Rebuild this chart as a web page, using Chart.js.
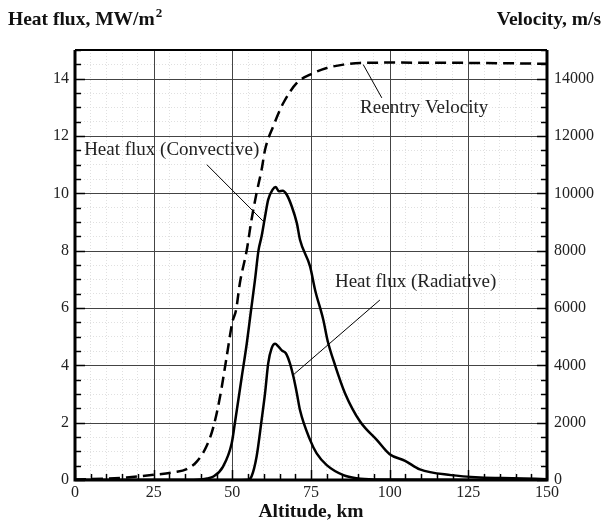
<!DOCTYPE html>
<html>
<head>
<meta charset="utf-8">
<title>Heat flux and velocity vs altitude</title>
<script src="https://cdn.jsdelivr.net/npm/chart.js@4.4.1/dist/chart.umd.min.js"></script>
<style>
    html, body { margin: 0; padding: 0; background: #fff; }
    #wrap { position: relative; width: 603px; height: 523px; }
</style>
</head>
<body>
<div id="wrap"><canvas id="heatChart"></canvas></div>
<script>
// convective heat flux, MW/m2
var altConv = [0, 20, 35, 40, 42, 44, 47, 49.8, 50.8, 53, 54.6, 55.8, 57.2, 58.3, 59.3, 60.4, 61.4, 62.8, 63.8, 64.8, 66, 67.3, 68.9, 70.5, 71.5, 74.7, 76.3, 78.9, 80.3, 82.6, 85.8, 90.6, 95.9, 100, 104.9, 109.6, 119.5, 128.7, 139, 150];
var qConv = [0, 0, 0, 0.02, 0.05, 0.12, 0.46, 1.28, 1.98, 3.6, 4.77, 5.8, 6.98, 8.0, 8.5, 9.19, 9.78, 10.13, 10.22, 10.07, 10.09, 9.95, 9.54, 8.96, 8.38, 7.45, 6.63, 5.59, 4.85, 4.02, 3.03, 2.04, 1.4, 0.9, 0.67, 0.37, 0.17, 0.09, 0.06, 0.03];

// radiative heat flux, MW/m2
var altRad = [0, 50, 55, 56.1, 57.7, 59.3, 60.4, 61.4, 62.5, 63.6, 64.6, 65.7, 67, 68.3, 69.4, 70.5, 71.5, 74.7, 76.8, 80, 85.3, 89.5, 95, 150];
var qRad = [0, 0, 0.01, 0.12, 0.81, 2.09, 3.03, 4.07, 4.6, 4.75, 4.66, 4.52, 4.42, 4.07, 3.61, 3.03, 2.44, 1.4, 0.93, 0.52, 0.17, 0.06, 0.02, 0];

// reentry velocity, m/s
var altVel = [0, 10, 16.4, 25, 31.5, 35.5, 38.7, 41.9, 44, 46.1, 48.2, 50, 51.2, 52.4, 54.6, 56.1, 57.7, 59.3, 60.4, 63, 66.2, 70.5, 74.7, 80, 85.3, 90.6, 100, 125, 150];
var vel = [20, 50, 90, 180, 270, 380, 640, 1200, 1860, 2910, 4300, 5500, 5940, 6870, 8030, 9080, 10010, 10820, 11520, 12340, 13150, 13850, 14140, 14370, 14490, 14550, 14560, 14550, 14520];

// axis label spots
var xLabelVals = [0, 25, 50, 75, 100, 125, 150];
var qLabelVals = [0, 2, 4, 6, 8, 10, 12, 14];
var vLabelVals = [0, 2000, 4000, 6000, 8000, 10000, 12000, 14000];

var serif = "'Liberation Serif', 'DejaVu Serif', serif";
var chartObj = null;

function makePoints(xs, ys) {
    var pts = [];
    for (var i = 0; i < xs.length; i++) {
        pts.push({ x: xs[i], y: ys[i] });
    }
    return pts;
}

// text labels with leader lines, placed in data units
var notes = [
    { text: 'Reentry Velocity', x: 90.6, y: 12.99, lx1: 91.6, ly1: 14.49, lx2: 97.5, ly2: 13.33 },
    { text: 'Heat flux (Convective)', x: 2.9, y: 11.52, lx1: 41.9, ly1: 11.0, lx2: 59.7, ly2: 9.04 },
    { text: 'Heat flux (Radiative)', x: 82.6, y: 6.91, lx1: 96.9, ly1: 6.28, lx2: 69.4, ly2: 3.67 }
];

function isMajor(v, step) {
    return Math.abs(v / step - Math.round(v / step)) < 1e-6;
}

// solid major grid, drawn over the dotted minor one
var majorGridPlugin = {
    id: 'majorGrid',
    beforeDatasetsDraw: function(chart) {
        var c = chart.ctx;
        var a = chart.chartArea;
        var sx = chart.scales.x;
        var sy = chart.scales.y;
        var i, p;
        c.save();
        c.strokeStyle = '#444';
        c.lineWidth = 1;
        for (i = 25; i < 150; i += 25) {
            p = Math.round(sx.getPixelForValue(i)) + 0.5;
            c.beginPath(); c.moveTo(p, a.top); c.lineTo(p, a.bottom); c.stroke();
        }
        for (i = 2; i < 15; i += 2) {
            p = Math.round(sy.getPixelForValue(i)) + 0.5;
            c.beginPath(); c.moveTo(a.left, p); c.lineTo(a.right, p); c.stroke();
        }
        c.restore();
    }
};

// frame, inward ticks, notes and axis titles
var decorPlugin = {
    id: 'decor',
    afterDatasetsDraw: function(chart) {
        var c = chart.ctx;
        var a = chart.chartArea;
        var sx = chart.scales.x;
        var sy = chart.scales.y;
        var sv = chart.scales.y2;
        var i, p, len;

        c.save();
        c.strokeStyle = '#000';

        // bottom ticks
        c.lineWidth = 1.5;
        for (i = 0; i <= 150; i += 5) {
            p = Math.round(sx.getPixelForValue(i)) + 0.5;
            len = (i % 25 === 0) ? 10 : 6;
            c.beginPath(); c.moveTo(p, a.bottom); c.lineTo(p, a.bottom - len); c.stroke();
        }
        // left ticks
        for (i = 0; i <= 30; i++) {
            p = Math.round(sy.getPixelForValue(i / 2)) + 0.5;
            len = (i % 4 === 0) ? 10 : 6;
            c.beginPath(); c.moveTo(a.left, p); c.lineTo(a.left + len, p); c.stroke();
        }
        // right ticks
        for (i = 0; i <= 15000; i += 500) {
            p = Math.round(sv.getPixelForValue(i)) + 0.5;
            len = (i % 2000 === 0) ? 10 : 6;
            c.beginPath(); c.moveTo(a.right, p); c.lineTo(a.right - len, p); c.stroke();
        }

        // frame
        c.lineWidth = 3;
        c.beginPath();
        c.moveTo(a.left, a.top); c.lineTo(a.left, a.bottom); c.lineTo(a.right, a.bottom); c.lineTo(a.right, a.top);
        c.stroke();
        c.lineWidth = 2;
        c.beginPath(); c.moveTo(a.left, a.top); c.lineTo(a.right, a.top); c.stroke();

        // notes
        c.lineWidth = 1;
        c.font = '19px ' + serif;
        c.fillStyle = '#222';
        c.textBaseline = 'middle';
        c.textAlign = 'left';
        for (i = 0; i < notes.length; i++) {
            var n = notes[i];
            c.beginPath();
            c.moveTo(sx.getPixelForValue(n.lx1), sy.getPixelForValue(n.ly1));
            c.lineTo(sx.getPixelForValue(n.lx2), sy.getPixelForValue(n.ly2));
            c.stroke();
            c.fillText(n.text, sx.getPixelForValue(n.x), sy.getPixelForValue(n.y));
        }

        // axis titles
        c.fillStyle = '#111';
        c.textBaseline = 'alphabetic';
        c.font = 'bold 19.5px ' + serif;
        c.textAlign = 'left';
        c.fillText('Heat flux, MW/m', 8, 25);
        var w = c.measureText('Heat flux, MW/m').width;
        c.font = 'bold 13px ' + serif;
        c.fillText('2', 8 + w + 1, 17);
        c.font = 'bold 19.5px ' + serif;
        c.textAlign = 'right';
        c.fillText('Velocity, m/s', 601, 25);
        c.textAlign = 'center';
        c.fillText('Altitude, km', (a.left + a.right) / 2, 517);
        c.restore();
    }
};

function renderChart() {
    var canvasContex = document.getElementById('heatChart').getContext('2d');

    if (chartObj !== null) {
        chartObj.destroy();
    }

    chartObj = new Chart(canvasContex, {
        type: 'line',
        data: {
            datasets: [
                {
                    label: 'Reentry Velocity',
                    data: makePoints(altVel, vel),
                    yAxisID: 'y2',
                    borderColor: '#000',
                    borderWidth: 2.5,
                    borderDash: [11, 6],
                    cubicInterpolationMode: 'monotone',
                    pointRadius: 0,
                    fill: false
                },
                {
                    label: 'Heat flux (Convective)',
                    data: makePoints(altConv, qConv),
                    yAxisID: 'y',
                    borderColor: '#000',
                    borderWidth: 2.5,
                    cubicInterpolationMode: 'monotone',
                    pointRadius: 0,
                    fill: false
                },
                {
                    label: 'Heat flux (Radiative)',
                    data: makePoints(altRad, qRad),
                    yAxisID: 'y',
                    borderColor: '#000',
                    borderWidth: 2.5,
                    cubicInterpolationMode: 'monotone',
                    pointRadius: 0,
                    fill: false
                }
            ]
        },
        plugins: [majorGridPlugin, decorPlugin],
        options: {
            responsive: true,
            maintainAspectRatio: false,
            animation: false,
            layout: { padding: { top: 50, left: 0, right: 0, bottom: 0 } },
            plugins: {
                legend: { display: false },
                tooltip: { enabled: false }
            },
            scales: {
                x: {
                    type: 'linear',
                    min: 0,
                    max: 150,
                    afterFit: function(s) { s.height = 43; },
                    ticks: {
                        stepSize: 5,
                        autoSkip: false,
                        maxRotation: 0,
                        padding: 3,
                        color: '#222',
                        font: { size: 16, family: serif },
                        callback: function(v) { return xLabelVals.indexOf(v) >= 0 ? String(v) : ''; }
                    },
                    grid: {
                        drawTicks: false,
                        lineWidth: 1,
                        color: function(ctx) { return isMajor(ctx.tick.value, 25) ? 'rgba(0,0,0,0)' : '#e0e0e0'; }
                    },
                    border: { display: false, dash: [1, 2] }
                },
                y: {
                    type: 'linear',
                    position: 'left',
                    min: 0,
                    max: 15,
                    afterFit: function(s) { s.width = 75; },
                    ticks: {
                        stepSize: 0.5,
                        autoSkip: false,
                        padding: 6,
                        color: '#222',
                        font: { size: 16, family: serif },
                        callback: function(v) { return qLabelVals.indexOf(v) >= 0 ? String(v) : ''; }
                    },
                    grid: {
                        drawTicks: false,
                        lineWidth: 1,
                        color: function(ctx) { return isMajor(ctx.tick.value, 2) ? 'rgba(0,0,0,0)' : '#e0e0e0'; }
                    },
                    border: { display: false, dash: [1, 2] }
                },
                y2: {
                    type: 'linear',
                    position: 'right',
                    min: 0,
                    max: 15000,
                    afterFit: function(s) { s.width = 56; },
                    ticks: {
                        stepSize: 500,
                        autoSkip: false,
                        padding: 7,
                        color: '#222',
                        font: { size: 16, family: serif },
                        callback: function(v) { return vLabelVals.indexOf(v) >= 0 ? String(v) : ''; }
                    },
                    grid: { display: false, drawTicks: false },
                    border: { display: false }
                }
            }
        }
    });
}

renderChart();
</script>
</body>
</html>
